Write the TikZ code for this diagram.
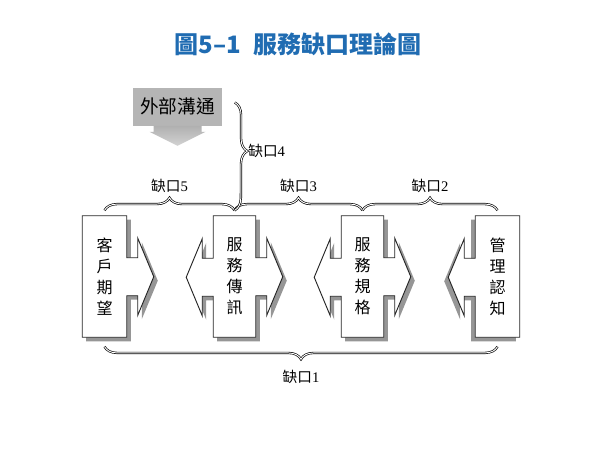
\documentclass[tikz,border=0pt]{standalone}
\usepackage{fontspec}
\setmainfont{Liberation Serif}
\newfontfamily\cjk{Noto Sans CJK TC}
\usetikzlibrary{backgrounds,decorations.pathreplacing}
\definecolor{titleblue}{RGB}{32,108,178}
\definecolor{shadowgray}{RGB}{150,150,150}
\tikzset{
  gapcell/.style={minimum width=31.5pt, minimum height=90.75pt, inner sep=0pt, align=center, font=\cjk\fontsize{12}{15.75}\selectfont},
  cellline/.style={draw=black!85, line width=0.7pt, fill=white},
  cellshadow/.style={fill=shadowgray, transform canvas={shift={(#1,4)}}},
  cellshadow/.default=4,
  gapbrace/.style={decorate, decoration={brace, amplitude=9.5pt, aspect=#1}, double, double distance=0.7pt, line width=0.5pt},
  gapbrace/.default=0.5,
  gaplabel/.style={font=\fontsize{11}{13}\selectfont, inner sep=1pt},
}
\begin{document}
\begin{tikzpicture}[x=0.75pt, y=-0.75pt]
\useasboundingbox (0,0) rectangle (600,450);
\def\rightarm{-- ++(0,42) -- ++(11,0) -- ++(0,-19.5) -- ++(16,38.5) -- ++(-16,38.5) -- ++(0,-19.5) -- ++(-11,0)}
\def\leftarm{-- ++(0,-41) -- ++(-11,0) -- ++(0,19.5) -- ++(-16,-38.5) -- ++(16,-38.5) -- ++(0,19.5) -- ++(11,0)}

\node[font=\cjk\bfseries\fontsize{18}{22}\selectfont, text=titleblue] (title) at (298,44) {圖5–1\hspace{0.5em}服務缺口理論圖};

\node[gapcell, minimum width=33pt] (expect) at (104.5,276.5) {客\\戶\\期\\望};
\node[gapcell] (deliver) at (234.5,276.5) {服\\務\\傳\\訊};
\node[gapcell] (spec) at (362.5,276.5) {服\\務\\規\\格};
\node[gapcell, minimum width=33pt] (percep) at (497.5,276.5) {管\\理\\認\\知};

\node[fill=gray!58, minimum width=66.75pt, minimum height=28.5pt, font=\cjk\fontsize{14}{16}\selectfont] (extcomm) at (177.5,106.5) {外部溝通};
\shade[top color=gray!62, bottom color=gray!35] (extcomm.south) ++(-24,0) -- ++(0,6) -- ++(-4,0) -- ++(28,14) -- ++(28,-14) -- ++(-4,0) -- ++(0,-6) -- cycle;

\begin{scope}[on background layer]
\def\cellexpect{(expect.north west) -- (expect.north east) \rightarm -- (expect.south east) -- (expect.south west) -- cycle}
\def\celldeliver{(deliver.north west) -- (deliver.north east) \rightarm -- (deliver.south east) -- (deliver.south west) \leftarm -- cycle}
\def\cellspec{(spec.north west) -- (spec.north east) \rightarm -- (spec.south east) -- (spec.south west) \leftarm -- cycle}
\def\cellpercep{(percep.north west) -- (percep.north east) -- (percep.south east) -- (percep.south west) \leftarm -- cycle}
\fill[cellshadow] \cellexpect;
\fill[cellshadow] \celldeliver;
\fill[cellshadow] \cellspec;
\fill[cellshadow=-4] \cellpercep;
\path[cellline] \cellexpect;
\path[cellline] \celldeliver;
\path[cellline] \cellspec;
\path[cellline] \cellpercep;
\end{scope}

\coordinate (top1) at ([yshift=4pt]expect.north);
\coordinate (top2) at ([yshift=4pt]deliver.north);
\coordinate (top3) at ([yshift=4pt]spec.north);
\coordinate (top4) at ([yshift=4pt]percep.north);
\coordinate (bot1) at ([yshift=-7pt]expect.south);
\coordinate (bot4) at ([yshift=-7pt]percep.south);
\coordinate (commtop) at ([xshift=9.4pt,yshift=3pt]extcomm.east);

\draw[gapbrace] (top1) -- node[gaplabel, midway, yshift=18.5pt] (gap5) {{\cjk 缺口}5} (top2);
\draw[gapbrace] (top2) -- node[gaplabel, midway, yshift=18.5pt] (gap3) {{\cjk 缺口}3} (top3);
\draw[gapbrace] (top3) -- node[gaplabel, midway, yshift=18.5pt] (gap2) {{\cjk 缺口}2} (top4);
\draw[gapbrace=0.45] (commtop) -- node[gaplabel, pos=0.45, right=9pt] (gap4) {{\cjk 缺口}4} (top2);
\draw[gapbrace] (bot4) -- node[gaplabel, midway, yshift=-23pt] (gap1) {{\cjk 缺口}1} (bot1);
\end{tikzpicture}
\end{document}
